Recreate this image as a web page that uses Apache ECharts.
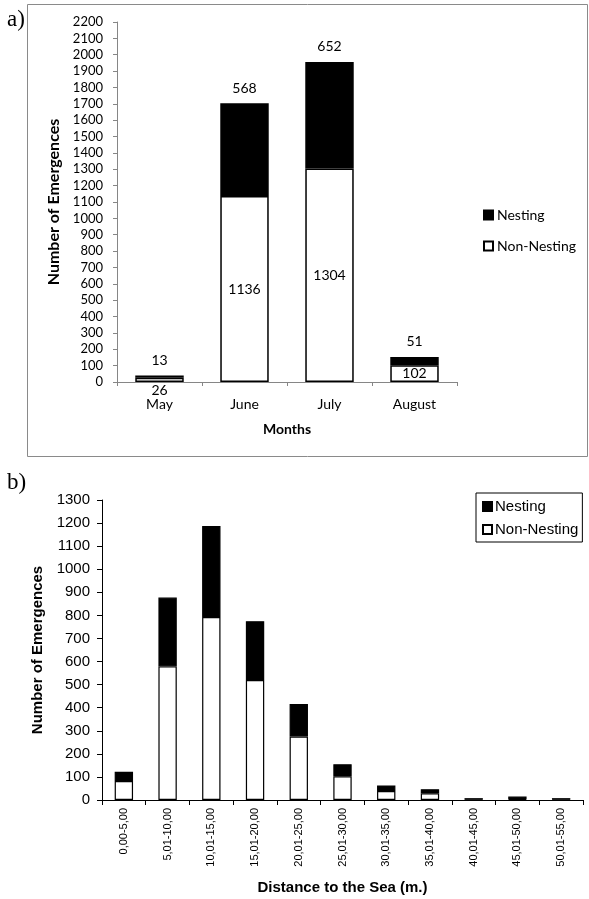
<!DOCTYPE html>
<html>
<head>
<meta charset="utf-8">
<script src="https://cdn.jsdelivr.net/npm/echarts@6/dist/echarts.min.js"></script>
<style>
html,body{margin:0;padding:0;background:#fff;}
#chart{width:589px;height:899px;}
</style>
</head>
<body>
<div id="chart"></div>
<script>
const monthCategories = ['May', 'June', 'July', 'August'];
const monthNonNesting = [26, 1136, 1304, 102];
const monthNesting = [13, 568, 652, 51];
const monthTicks = { min: 0, max: 2200, interval: 100 };

const distCategories = ['0,00-5,00', '5,01-10,00', '10,01-15,00', '15,01-20,00', '20,01-25,00', '25,01-30,00', '30,01-35,00', '35,01-40,00', '40,01-45,00', '45,01-50,00', '50,01-55,00'];
const distNonNesting = [82, 579, 793, 520, 275, 103, 39, 29, 2, 3, 2];
const distNesting = [40, 298, 394, 255, 141, 52, 24, 18, 6, 12, 6];
const distTicks = { min: 0, max: 1300, interval: 100 };

const fa = 'Lato';
const fb = 'Liberation Sans';
const plain = v => String(v);

const chart = echarts.init(document.getElementById('chart'), null, { renderer: 'canvas' });

const monthNNData = monthNonNesting.map(v => v < 50
  ? { value: v, label: { position: 'bottom', distance: 1 } }
  : v);

chart.setOption({
  animation: false,
  backgroundColor: '#fff',
  graphic: [
    { type: 'rect', shape: { x: 27.5, y: 4.5, width: 560, height: 452 }, style: { fill: 'none', stroke: '#8a8a8a', lineWidth: 1 }, z: 0 },
    { type: 'text', left: 7, top: 8, style: { text: 'a)', font: '23px "Liberation Serif"', fill: '#000' }, z: 10 },
    { type: 'text', left: 7, top: 471, style: { text: 'b)', font: '23px "Liberation Serif"', fill: '#000' }, z: 10 }
  ],
  legend: [
    {
      orient: 'vertical', left: 483, top: 208, padding: 0, itemGap: 17,
      itemWidth: 9, itemHeight: 9, icon: 'rect',
      data: ['Nesting', 'Non-Nesting'],
      textStyle: { fontFamily: fa, fontSize: 14, color: '#000', padding: [0, 0, 0, -1] }
    },
    {
      orient: 'vertical', left: 476, top: 493, padding: [6, 4, 5, 6], itemGap: 8,
      itemWidth: 9, itemHeight: 9, icon: 'rect',
      borderColor: '#000', borderWidth: 1,
      data: ['Nesting', 'Non-Nesting'],
      textStyle: { fontFamily: fb, fontSize: 15, color: '#000', padding: [0, 0, 0, -2] }
    }
  ],
  grid: [
    { left: 117, right: 132, top: 22, bottom: 517, containLabel: false },
    { left: 102, right: 6, top: 500, bottom: 99, containLabel: false }
  ],
  xAxis: [
    {
      type: 'category', gridIndex: 0, data: monthCategories,
      name: 'Months', nameLocation: 'middle', nameGap: 40,
      nameTextStyle: { fontFamily: fa, fontSize: 14, fontWeight: 'bold', color: '#000' },
      axisLine: { lineStyle: { color: '#868686', width: 1 } },
      axisTick: { show: true, length: 4, lineStyle: { color: '#868686' } },
      axisLabel: { fontFamily: fa, fontSize: 14, color: '#000', margin: 15 }
    },
    {
      type: 'category', gridIndex: 1, data: distCategories,
      name: 'Distance to the Sea (m.)', nameLocation: 'middle', nameGap: 80,
      nameTextStyle: { fontFamily: fb, fontSize: 15, fontWeight: 'bold', color: '#000' },
      axisLine: { lineStyle: { color: '#000', width: 1 } },
      axisTick: { show: true, length: 5, lineStyle: { color: '#000' } },
      axisLabel: { fontFamily: fb, fontSize: 11, color: '#000', rotate: 90, margin: 8, interval: 0 }
    }
  ],
  yAxis: [
    {
      type: 'value', gridIndex: 0, min: monthTicks.min, max: monthTicks.max, interval: monthTicks.interval,
      name: 'Number of Emergences', nameLocation: 'middle', nameGap: 48,
      nameTextStyle: { fontFamily: fa, fontSize: 16, fontWeight: 'bold', color: '#000' },
      axisLine: { show: true, lineStyle: { color: '#868686', width: 1 } },
      axisTick: { show: true, length: 4, lineStyle: { color: '#868686' } },
      axisLabel: { fontFamily: fa, fontSize: 13, color: '#000', margin: 14, formatter: plain },
      splitLine: { show: false }
    },
    {
      type: 'value', gridIndex: 1, min: distTicks.min, max: distTicks.max, interval: distTicks.interval,
      name: 'Number of Emergences', nameLocation: 'middle', nameGap: 50,
      nameTextStyle: { fontFamily: fb, fontSize: 15, fontWeight: 'bold', color: '#000' },
      axisLine: { show: true, lineStyle: { color: '#000', width: 1 } },
      axisTick: { show: true, length: 5, lineStyle: { color: '#000' } },
      axisLabel: { fontFamily: fb, fontSize: 15, color: '#000', margin: 12, formatter: plain },
      splitLine: { show: false }
    }
  ],
  series: [
    {
      name: 'Non-Nesting', type: 'bar', stack: 'a', xAxisIndex: 0, yAxisIndex: 0,
      data: monthNNData, barCategoryGap: '43%',
      itemStyle: { color: '#fff', borderColor: '#000', borderWidth: 1.5 },
      label: { show: true, position: 'inside', fontFamily: fa, fontSize: 14, color: '#000' }
    },
    {
      name: 'Nesting', type: 'bar', stack: 'a', xAxisIndex: 0, yAxisIndex: 0,
      data: monthNesting, barCategoryGap: '43%',
      itemStyle: { color: '#000', borderColor: '#000', borderWidth: 1.5 },
      label: { show: true, position: 'top', distance: 8, fontFamily: fa, fontSize: 14, color: '#000' }
    },
    {
      name: 'Non-Nesting', type: 'bar', stack: 'b', xAxisIndex: 1, yAxisIndex: 1,
      data: distNonNesting, barCategoryGap: '58%',
      itemStyle: { color: '#fff', borderColor: '#000', borderWidth: 1.2 }
    },
    {
      name: 'Nesting', type: 'bar', stack: 'b', xAxisIndex: 1, yAxisIndex: 1,
      data: distNesting, barCategoryGap: '58%',
      itemStyle: { color: '#000', borderColor: '#000', borderWidth: 1.2 }
    }
  ]
});
</script>
</body>
</html>
